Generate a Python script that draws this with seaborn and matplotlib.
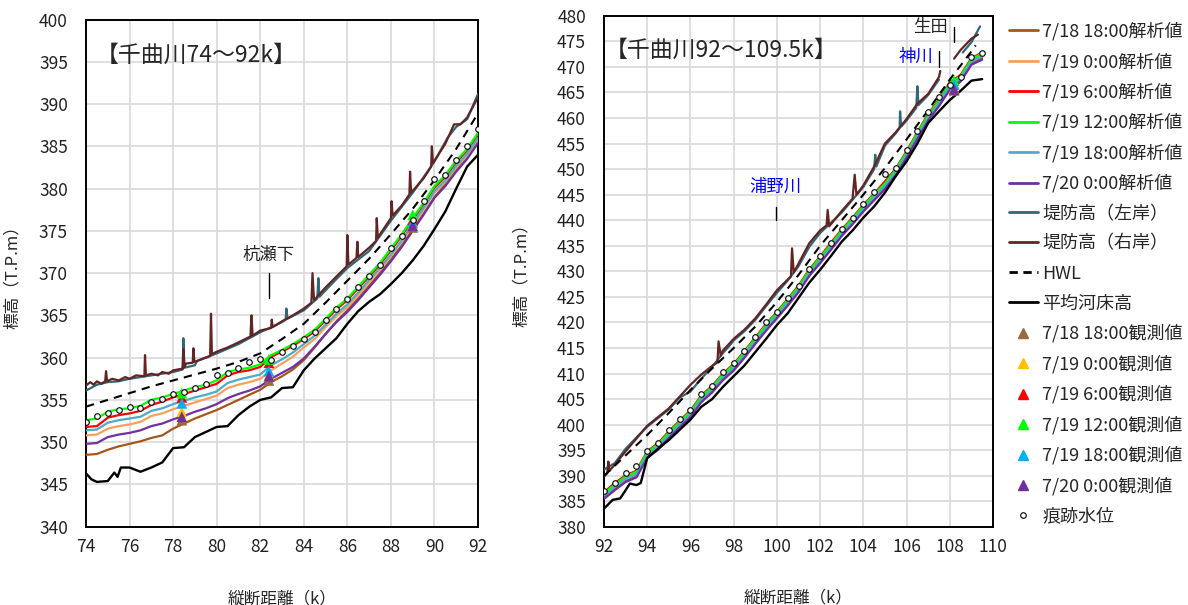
import numpy as np
import matplotlib
import matplotlib.pyplot as plt
from matplotlib.lines import Line2D
import seaborn as sns

sns.set_style("white")
plt.rcParams['font.family'] = ['Noto Sans CJK JP', 'DejaVu Sans']

# ---------------- data: left panel (74-92k) ----------------
k_left = [74.0, 74.5, 75.0, 75.5, 76.0, 76.5, 77.0, 77.5, 78.0, 78.5, 79.0, 79.5,
          80.0, 80.5, 81.0, 81.5, 82.0, 82.5, 83.0, 83.5, 84.0, 84.5, 85.0, 85.5,
          86.0, 86.5, 87.0, 87.5, 88.0, 88.5, 89.0, 89.5, 90.0, 90.5, 91.0, 91.5, 92.0]
an_1818_left = [348.5, 348.6, 349.1, 349.5, 349.8, 350.1, 350.5, 350.8, 351.6, 352.2, 352.8, 353.3,
                353.8, 354.4, 355.0, 355.6, 356.2, 357.1, 357.8, 358.6, 359.7, 361.2, 362.8, 364.3,
                365.6, 367.0, 368.5, 370.0, 371.6, 373.3, 375.2, 377.0, 379.0, 380.5, 382.2, 383.8, 385.6]
an_1900_left = [350.8, 350.9, 351.6, 351.9, 352.1, 352.4, 353.1, 353.4, 353.9, 354.3, 354.7, 355.1,
                355.5, 356.4, 356.8, 357.1, 357.5, 358.5, 359.3, 360.1, 361.2, 362.2, 363.6, 364.9,
                366.0, 367.4, 368.9, 370.4, 372.0, 373.7, 375.6, 377.5, 379.5, 380.8, 382.5, 383.9, 385.8]
an_1906_left = [351.8, 351.9, 352.9, 353.2, 353.4, 353.7, 354.4, 354.8, 355.3, 355.7, 356.1, 356.5,
                356.9, 357.9, 358.3, 358.5, 358.9, 360.1, 360.7, 361.4, 362.2, 363.1, 364.4, 365.7,
                366.8, 368.2, 369.6, 371.0, 372.7, 374.4, 376.3, 378.1, 380.1, 381.4, 383.1, 384.5, 386.4]
an_1912_left = [352.6, 352.8, 353.6, 353.9, 354.0, 354.3, 355.0, 355.3, 355.7, 356.1, 356.5, 356.8,
                357.3, 358.3, 358.6, 358.8, 359.2, 360.3, 360.9, 361.6, 362.4, 363.3, 364.6, 365.9,
                367.0, 368.4, 369.8, 371.2, 372.9, 374.6, 376.5, 378.3, 380.3, 381.6, 383.3, 384.7, 386.6]
an_1918_left = [351.4, 351.5, 352.3, 352.6, 352.8, 353.0, 353.7, 354.0, 354.5, 354.9, 355.3, 355.6,
                356.0, 357.0, 357.4, 357.7, 358.0, 359.1, 359.8, 360.6, 361.6, 362.6, 363.9, 365.2,
                366.3, 367.7, 369.2, 370.6, 372.2, 373.9, 375.8, 377.7, 379.7, 381.0, 382.7, 384.1, 386.0]
an_2000_left = [349.8, 349.9, 350.6, 350.9, 351.1, 351.4, 351.9, 352.2, 352.7, 353.1, 353.6, 354.0,
                354.5, 355.2, 355.7, 356.1, 356.6, 357.5, 358.2, 358.9, 359.9, 361.3, 362.8, 364.2,
                365.4, 366.8, 368.3, 369.8, 371.4, 373.1, 375.0, 376.9, 378.9, 380.3, 382.0, 383.5, 385.4]
trace_left = [352.4, 353.1, 353.4, 353.85, 354.2, 354.0, 354.8, 355.15, 355.7, 355.9, 356.45, 356.85,
              357.95, 358.2, 358.75, 359.45, 359.85, 359.7, 360.7, 361.4, 362.2, 363.0, 364.5, 365.7,
              366.9, 368.3, 369.6, 370.9, 373.0, 374.4, 376.3, 378.5, 381.1, 381.65, 383.4, 385.0, 387.1]

hwl_k_left = [74, 75, 76, 77, 78, 79, 80, 81, 82, 83, 84, 85, 86, 87, 88, 89, 90, 91, 92]
hwl_left = [354.2, 355.0, 355.8, 356.6, 357.3, 358.0, 358.7, 359.5, 360.5, 362.2, 364.0,
            366.5, 369.1, 371.7, 374.6, 377.6, 381.0, 384.7, 388.9]

bed_k_left = [74.0, 74.25, 74.5, 75.0, 75.3, 75.45, 75.6, 76.0, 76.5, 77.0, 77.5, 78.0, 78.5,
              79.0, 79.5, 80.0, 80.5, 81.0, 81.5, 82.0, 82.5, 83.0, 83.5, 84.0, 84.5, 85.0,
              85.5, 86.0, 86.5, 87.0, 87.5, 88.0, 88.5, 89.0, 89.5, 90.0, 90.5, 91.0, 91.5, 92.0]
bed_left = [346.3, 345.6, 345.3, 345.4, 346.4, 345.9, 347.0, 347.0, 346.5, 347.0, 347.6, 349.3, 349.4,
            350.6, 351.2, 351.8, 351.9, 353.2, 354.2, 355.0, 355.3, 356.4, 356.5, 358.5, 359.9, 361.1,
            362.3, 364.0, 365.5, 366.6, 367.5, 368.7, 370.0, 371.5, 373.2, 375.2, 377.3, 380.0, 382.6, 384.0]

levee_r_k_left = [74.0, 74.2, 74.35, 74.5, 74.7, 74.88, 74.92, 74.97, 75.2, 75.5, 75.8, 76.0, 76.3,
                  76.68, 76.71, 76.75, 77.0, 77.3, 77.5, 77.8, 78.0,
                  78.44, 78.47, 78.52, 78.6, 78.9, 78.93, 78.98, 79.5, 79.7, 79.74, 79.78, 80.0, 80.5,
                  81.0, 81.55, 81.6, 81.65, 82.0, 82.5, 82.53, 82.57, 83.0, 83.5, 84.0, 84.35, 84.4,
                  84.47, 85.0, 85.5, 85.97, 86.0, 86.05, 86.42, 86.46, 86.5, 87.0, 87.32, 87.35, 87.4,
                  88.0, 88.03, 88.08, 88.5, 88.85, 88.88, 88.93, 89.5, 89.85, 89.88, 89.93, 90.5, 90.9,
                  91.2, 91.5, 92.0]
levee_r_left = [356.7, 357.1, 356.8, 357.2, 356.9, 357.2, 358.4, 357.2, 357.5, 357.3, 357.7, 357.5, 357.9,
                357.8, 360.3, 357.9, 358.1, 357.9, 358.3, 358.1, 358.5,
                358.7, 361.0, 358.9, 359.3, 359.4, 361.1, 359.5, 360.0, 360.2, 365.2, 360.4, 360.7, 361.2,
                361.8, 362.5, 365.0, 362.6, 363.2, 363.5, 364.5, 363.6, 364.3, 365.0, 365.8, 366.5, 370.0,
                366.8, 368.3, 369.6, 370.8, 374.5, 371.0, 371.8, 373.7, 371.9, 373.0, 373.8, 376.5, 374.2,
                376.5, 378.5, 376.8, 378.0, 379.3, 382.0, 379.5, 381.2, 382.6, 385.0, 383.0, 385.3, 387.6,
                387.6, 388.4, 390.8]
levee_l_k_left = [74.0, 74.5, 75.0, 75.5, 76.0, 77.0, 78.0, 78.44, 78.47, 78.52, 79.0, 79.1, 80.0, 81.0,
                  82.0, 83.0, 83.17, 83.2, 83.25, 84.0, 84.62, 84.67, 84.72, 85.5, 86.0, 87.0, 88.0,
                  89.0, 90.0, 90.6, 91.0, 91.5, 92.0]
levee_l_left = [356.1, 356.8, 357.1, 357.2, 357.5, 357.9, 358.3, 358.6, 362.3, 358.8, 359.1, 359.6, 360.5,
                361.6, 363.0, 364.2, 364.5, 365.8, 364.6, 365.6, 367.0, 369.4, 367.2, 369.3, 370.6, 372.6,
                376.2, 379.5, 383.2, 386.0, 387.3, 388.2, 391.2]

obs_k_left = [78.4, 82.4, 89.0]
obs_1818_left = [352.6, 357.3, 375.4]
obs_1900_left = [353.6, 357.9, 375.9]
obs_1906_left = [355.3, 359.4, 376.3]
obs_1912_left = [355.8, 359.8, 376.9]
obs_1918_left = [354.6, 358.4, 376.0]
obs_2000_left = [353.0, 357.8, 375.6]

# ---------------- data: right panel (92-109.5k) ----------------
k_right = [92.0, 92.5, 93.0, 93.5, 94.0, 94.5, 95.0, 95.5, 96.0, 96.5, 97.0, 97.5,
           98.0, 98.5, 99.0, 99.5, 100.0, 100.5, 101.0, 101.5, 102.0, 102.5, 103.0, 103.5,
           104.0, 104.5, 105.0, 105.5, 106.0, 106.5, 107.0, 107.5, 108.0, 108.5, 109.0, 109.5]
an_1818_right = [385.7, 387.4, 389.0, 389.9, 393.7, 395.3, 397.6, 399.7, 401.7, 404.6, 406.5, 408.9,
                 410.8, 413.3, 416.0, 418.6, 421.0, 423.5, 426.1, 429.3, 431.8, 434.4, 437.1, 439.4,
                 441.9, 444.1, 446.3, 449.0, 452.4, 456.1, 459.7, 462.5, 465.7, 467.3, 470.6, 471.7]
an_1900_right = [386.3, 388.0, 389.6, 390.5, 394.3, 395.9, 398.2, 400.3, 402.3, 405.2, 407.1, 409.5,
                 411.4, 413.9, 416.6, 419.2, 421.6, 424.1, 426.7, 429.9, 432.4, 435.0, 437.7, 440.0,
                 442.5, 444.7, 446.9, 449.6, 453.0, 456.7, 460.3, 463.1, 466.5, 467.9, 471.2, 472.3]
an_1906_right = [386.8, 388.6, 390.1, 391.0, 394.8, 396.4, 398.7, 400.8, 402.8, 405.7, 407.6, 410.0,
                 411.9, 414.4, 417.1, 419.7, 422.1, 424.6, 427.2, 430.4, 432.9, 435.6, 438.2, 440.5,
                 443.0, 445.2, 447.6, 450.1, 453.5, 457.2, 460.8, 463.6, 467.0, 468.4, 471.7, 472.8]
an_1912_right = [386.6, 388.3, 389.9, 390.8, 394.6, 396.2, 398.5, 400.6, 402.6, 405.5, 407.4, 409.8,
                 411.7, 414.2, 416.9, 419.5, 421.9, 424.4, 427.0, 430.2, 432.7, 435.3, 438.0, 440.3,
                 442.8, 445.0, 447.2, 449.9, 453.3, 457.0, 460.6, 463.4, 466.8, 468.2, 471.5, 472.6]
an_1918_right = [386.1, 387.8, 389.4, 390.3, 394.1, 395.7, 398.0, 400.1, 402.1, 405.0, 406.9, 409.3,
                 411.2, 413.7, 416.4, 419.0, 421.4, 423.9, 426.5, 429.7, 432.2, 434.8, 437.5, 439.8,
                 442.3, 444.5, 446.7, 449.4, 452.8, 456.5, 460.1, 462.9, 466.3, 467.7, 471.0, 472.1]
an_2000_right = [385.5, 387.2, 388.8, 389.7, 393.5, 395.1, 397.4, 399.5, 401.5, 404.4, 406.3, 408.7,
                 410.6, 413.1, 415.8, 418.4, 420.8, 423.3, 425.9, 429.1, 431.6, 434.2, 436.9, 439.2,
                 441.7, 443.9, 446.1, 448.8, 452.2, 455.9, 459.5, 462.3, 465.5, 467.1, 470.4, 471.4]
trace_right = [387.05, 388.55, 390.5, 391.9, 394.9, 396.5, 399.0, 401.1, 402.8, 406.0, 407.65, 410.4,
               412.0, 414.45, 417.1, 420.05, 422.1, 424.75, 427.2, 430.55, 433.0, 435.5, 438.25, 440.5,
               443.15, 445.6, 449.0, 450.2, 453.8, 457.5, 461.1, 464.1, 466.4, 468.1, 471.85, 472.7]

hwl_k_right = [92, 93, 94, 95, 96, 97, 98, 99, 100, 101, 102, 103, 104, 105, 106, 107, 108, 109, 109.2]
hwl_right = [390.0, 394.0, 398.0, 402.3, 406.8, 411.0, 415.0, 419.2, 424.0, 429.3, 435.0,
             440.0, 445.0, 450.2, 455.8, 461.5, 467.5, 473.0, 474.2]

bed_k_right = [92.0, 92.4, 92.75, 93.2, 93.5, 93.7, 94.0, 94.5, 95.0, 95.5, 96.0, 96.5, 97.0, 97.5,
               98.0, 98.5, 99.0, 99.5, 100.0, 100.5, 101.0, 101.5, 102.0, 102.5, 103.0, 103.5, 104.0,
               104.5, 105.0, 105.5, 106.0, 106.5, 107.0, 107.5, 108.0, 108.5, 109.0, 109.5]
bed_right = [383.6, 385.3, 385.6, 388.5, 388.2, 388.6, 393.5, 395.3, 397.0, 399.0, 401.0, 403.5, 405.0,
             407.4, 409.5, 411.6, 414.2, 416.8, 419.5, 421.8, 424.8, 427.8, 430.3, 433.0, 435.8, 438.0,
             440.5, 442.7, 445.4, 448.6, 451.5, 455.0, 459.0, 461.3, 463.5, 465.3, 467.3, 467.6]

levee_r_k_right = [92.0, 92.15, 92.2, 92.25, 92.5, 93.0, 93.5, 94.0, 94.5, 95.0, 95.5, 96.0, 96.5, 97.0,
                   97.25, 97.3, 97.4, 97.5, 98.0, 98.5, 99.0, 99.5, 100.0, 100.5, 100.65, 100.7, 100.78,
                   101.0, 101.5, 102.0, 102.3, 102.35, 102.42, 103.0, 103.5, 103.6, 103.68, 104.0, 104.5,
                   105.0, 105.5, 106.0, 106.5, 107.0, 107.5, 107.56, 107.8, 108.2, 108.5, 109.0, 109.3]
levee_r_right = [389.9, 390.5, 392.8, 391.0, 392.2, 394.8, 397.3, 399.8, 401.5, 403.2, 405.5, 407.8, 409.8,
                 411.5, 412.2, 416.3, 413.5, 414.5, 416.8, 418.6, 420.8, 423.5, 426.3, 428.4, 429.0, 434.5,
                 429.8, 431.5, 435.5, 438.0, 439.0, 442.0, 438.8, 441.8, 444.2, 448.9, 445.0, 446.8, 450.5,
                 455.0, 457.2, 459.8, 462.8, 464.7, 468.0, 469.2, np.nan, 471.6, 473.3, 475.5, 476.3]
levee_l_k_right = [92.0, 92.5, 93.0, 93.5, 94.0, 94.5, 95.0, 95.5, 96.0, 96.5, 97.0, 97.5, 97.8, 98.0,
                   98.5, 99.0, 99.5, 100.0, 100.5, 101.0, 101.5, 102.0, 102.5, 103.0, 103.5, 104.0, 104.5,
                   104.55, 104.6, 105.0, 105.5, 105.68, 105.7, 105.75, 106.0, 106.45, 106.5, 106.55, 107.0,
                   107.5, 107.8, 108.6, 109.0, 109.4]
levee_l_right = [391.2, 392.5, 395.3, 397.5, 399.6, 401.3, 403.0, 405.3, 406.5, 409.0, 411.3, 414.0, 415.4,
                 416.5, 418.3, 420.5, 423.2, 425.8, 428.2, 431.0, 434.8, 437.5, 439.5, 441.5, 444.0, 446.5,
                 450.0, 452.8, 450.5, 454.6, 457.0, 458.0, 461.3, 458.3, 459.5, 462.0, 466.2, 462.5, 464.5,
                 467.5, np.nan, 472.8, 474.8, 477.9]

obs_k_right = [108.2]
obs_1818_right = [465.4]
obs_1900_right = [465.8]
obs_1906_right = [466.6]
obs_1912_right = [467.3]
obs_1918_right = [466.6]
obs_2000_right = [465.6]

# ---------------- labels / colours ----------------
an_labels = ["7/18 18:00解析値", "7/19 0:00解析値", "7/19 6:00解析値",
             "7/19 12:00解析値", "7/19 18:00解析値", "7/20 0:00解析値"]
an_colors = ["#A5561B", "#F7A05C", "#FF0000", "#00FF00", "#4BACC6", "#7030A0"]
obs_labels = ["7/18 18:00観測値", "7/19 0:00観測値", "7/19 6:00観測値",
              "7/19 12:00観測値", "7/19 18:00観測値", "7/20 0:00観測値"]
obs_colors = ["#9C6A3A", "#FFC000", "#FF0000", "#00FF00", "#00B0F0", "#7030A0"]
levee_l_color = "#2F6878"
levee_r_color = "#632523"


def draw(ax, xs, ys, **kw):
    # split on NaN so gaps stay gaps
    xs = np.asarray(xs, float)
    ys = np.asarray(ys, float)
    breaks = np.where(np.isnan(ys))[0]
    start = 0
    for b in list(breaks) + [len(ys)]:
        if b - start > 1:
            sns.lineplot(x=xs[start:b], y=ys[start:b], ax=ax, estimator=None,
                         sort=False, legend=False, **kw)
        start = b + 1


def panel(ax, k, an, trace, hwl_k, hwl, bed_k, bed, lv_l_k, lv_l, lv_r_k, lv_r, obs_k, obs):
    for ys, c in zip(an, an_colors):
        draw(ax, k, ys, color=c, lw=1.6, zorder=3)
    draw(ax, lv_l_k, lv_l, color=levee_l_color, lw=1.6, zorder=3)
    draw(ax, lv_r_k, lv_r, color=levee_r_color, lw=1.6, zorder=3)
    draw(ax, hwl_k, hwl, color="black", lw=1.5, linestyle=(0, (4, 3)), zorder=3)
    draw(ax, bed_k, bed, color="black", lw=1.7, zorder=3)
    for ys, c in zip(obs, obs_colors):
        sns.scatterplot(x=obs_k, y=ys, ax=ax, marker="^", s=60, color=c,
                        edgecolor="none", zorder=4, legend=False)
    sns.scatterplot(x=k, y=trace, ax=ax, marker="o", s=16, color="white",
                    edgecolor="black", linewidth=0.8, zorder=5, legend=False)


f = plt.figure(figsize=(11.88, 6.05), dpi=100)
ax1 = f.add_axes([86 / 1188, 1 - 526.7 / 605, 392 / 1188, 507.2 / 605])
ax2 = f.add_axes([604 / 1188, 1 - 527 / 605, 389 / 1188, 511.3 / 605])

panel(ax1, k_left,
      [an_1818_left, an_1900_left, an_1906_left, an_1912_left, an_1918_left, an_2000_left],
      trace_left, hwl_k_left, hwl_left, bed_k_left, bed_left,
      levee_l_k_left, levee_l_left, levee_r_k_left, levee_r_left, obs_k_left,
      [obs_1818_left, obs_1900_left, obs_1906_left, obs_1912_left, obs_1918_left, obs_2000_left])
panel(ax2, k_right,
      [an_1818_right, an_1900_right, an_1906_right, an_1912_right, an_1918_right, an_2000_right],
      trace_right, hwl_k_right, hwl_right, bed_k_right, bed_right,
      levee_l_k_right, levee_l_right, levee_r_k_right, levee_r_right, obs_k_right,
      [obs_1818_right, obs_1900_right, obs_1906_right, obs_1912_right, obs_1918_right, obs_2000_right])

for ax, (x0, x1), (y0, y1) in [(ax1, (74, 92), (340, 400)), (ax2, (92, 110), (380, 480))]:
    ax.set_xlim(x0, x1)
    ax.set_ylim(y0, y1)
    ax.set_xticks(range(x0, x1 + 1, 2))
    ax.set_yticks(range(y0, y1 + 1, 5))
    ax.grid(True, color="#D9D9D9", lw=1.2, zorder=0)
    ax.set_axisbelow(True)
    ax.tick_params(length=0, labelsize=12.5, colors="#222222")
    ax.tick_params(axis="y", pad=13)
    ax.tick_params(axis="x", pad=8)
    for s in ax.spines.values():
        s.set_color("black")
        s.set_linewidth(1.4)
    ax.set_xlabel("縦断距離（k）", fontsize=12)
    ax.set_ylabel("標高（T.P.m）", fontsize=12)

ax1.xaxis.set_label_coords(0.5, -0.125)
ax1.yaxis.set_label_coords(-0.165, 0.5)
ax2.xaxis.set_label_coords(0.5, -0.123)
ax2.yaxis.set_label_coords(-0.19, 0.5)

# titles and place names
ax1.text(74.45, 395.8, "【千曲川74～92k】", fontsize=16.5, va="center", ha="left")
ax2.text(92.05, 473.3, "【千曲川92～109.5k】", fontsize=16.5, va="center", ha="left")

ax1.text(82.4, 372.1, "杭瀬下", fontsize=12.5, ha="center", va="center")
ax1.plot([82.4, 82.4], [367.0, 370.0], color="black", lw=1)
ax2.text(99.95, 446.5, "浦野川", fontsize=12.5, ha="center", va="center", color="#0000FF")
ax2.plot([99.95, 99.95], [440.1, 442.6], color="black", lw=1)
ax2.text(106.45, 472.0, "神川", fontsize=12.5, ha="center", va="center", color="#0000FF")
ax2.plot([107.5, 107.5], [470.0, 473.0], color="black", lw=1)
ax2.text(107.1, 477.8, "生田", fontsize=12.5, ha="center", va="center")
ax2.plot([108.2, 108.2], [474.9, 477.8], color="black", lw=1)

# legend
handles = [Line2D([], [], color=c, lw=2) for c in an_colors]
handles += [Line2D([], [], color=levee_l_color, lw=2),
            Line2D([], [], color=levee_r_color, lw=2),
            Line2D([], [], color="black", lw=2, linestyle=(0, (3, 2))),
            Line2D([], [], color="black", lw=2)]
handles += [Line2D([], [], color=c, marker="^", markersize=7, lw=0) for c in obs_colors]
handles += [Line2D([], [], color="black", marker="o", markersize=4, markerfacecolor="white",
                   markeredgewidth=0.8, lw=0)]
labels = an_labels + ["堤防高（左岸）", "堤防高（右岸）", "HWL", "平均河床高"] + obs_labels + ["痕跡水位"]
f.legend(handles, labels, loc="upper left", bbox_to_anchor=(1009 / 1188, 1 - 22 / 605),
         frameon=False, fontsize=13, handlelength=1.6, handletextpad=0.25,
         labelspacing=0.66, borderaxespad=0, borderpad=0)

f.savefig("out.png", dpi=100)
